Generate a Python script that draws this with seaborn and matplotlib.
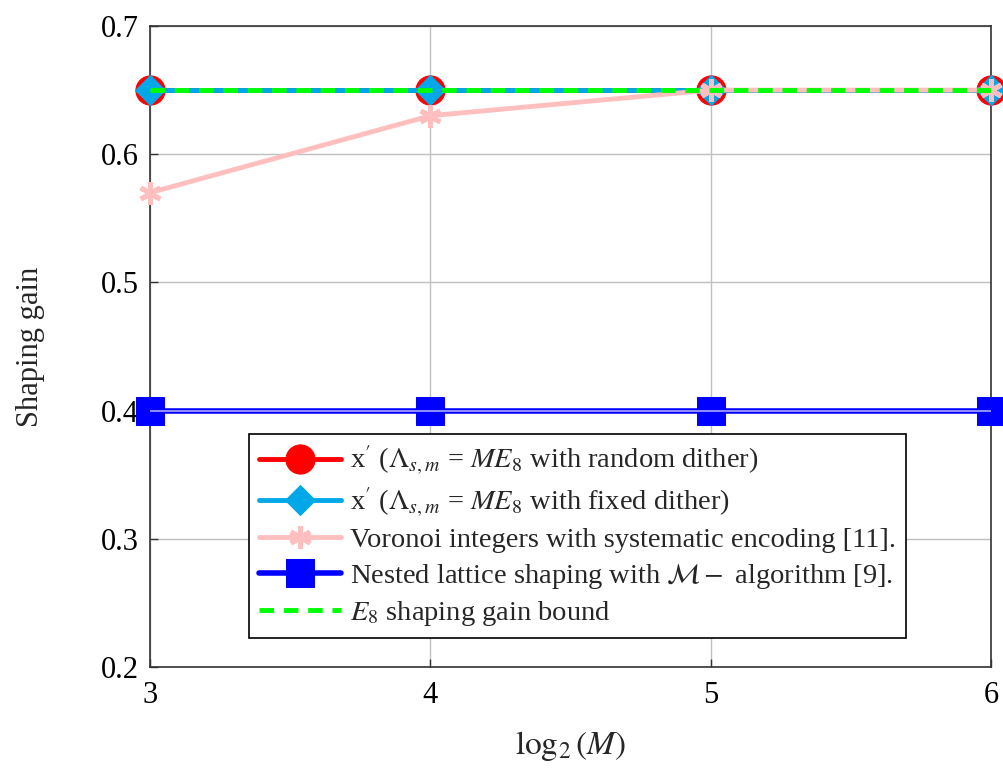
import matplotlib
matplotlib.use("Agg")
import matplotlib.pyplot as plt
import seaborn as sns

# data
log2M = [3, 4, 5, 6]
random_dither = [0.65, 0.65, 0.65, 0.65]
fixed_dither = [0.65, 0.65, 0.65, 0.65]
voronoi = [0.57, 0.63, 0.65, 0.65]
nested = [0.40, 0.40, 0.40, 0.40]
e8_bound = [0.65, 0.65, 0.65, 0.65]

sns.set_style("whitegrid")
plt.rcParams["font.family"] = ["Liberation Serif", "DejaVu Serif"]
plt.rcParams["mathtext.fontset"] = "stix"

fig = plt.figure(figsize=(10.04, 7.69), dpi=100)
ax = fig.add_axes([0.1494, 0.1326, 0.8377, 0.8336])

sns.lineplot(x=log2M, y=random_dither, ax=ax, color="red", linewidth=3.5,
             marker="o", markersize=21, markeredgecolor="red",
             label=r"x$'$ ($\Lambda_{s,m}$ = $ME_8$ with random dither)",
             clip_on=False, zorder=3)
sns.lineplot(x=log2M, y=fixed_dither, ax=ax, color="#00a8e8", linewidth=3.5,
             marker="D", markersize=15, markeredgecolor="#00a8e8",
             label=r"x$'$ ($\Lambda_{s,m}$ = $ME_8$ with fixed dither)",
             clip_on=False, zorder=4)
sns.lineplot(x=log2M, y=voronoi, ax=ax, color="#ffbfbf", linewidth=3.5,
             marker=(6, 2, 0), markersize=16, markeredgewidth=3.5,
             markeredgecolor="#ffbfbf",
             label="Voronoi integers with systematic encoding [11].",
             clip_on=False, zorder=5)
sns.lineplot(x=log2M, y=nested, ax=ax, color="#0000ff", linewidth=4,
             marker="s", markersize=20, markeredgecolor="#0000ff",
             label=r"Nested lattice shaping with $\mathcal{M}-$ algorithm [9].",
             clip_on=False, zorder=3)
ax.plot(log2M, nested, color="#a8a8ff", linewidth=1.2, zorder=3.5)
sns.lineplot(x=log2M, y=e8_bound, ax=ax, color="#00ff00", linewidth=3.5,
             linestyle=(0, (3, 2)), label=r"$E_8$ shaping gain bound",
             zorder=6)

ax.set_xlim(3, 6)
ax.set_ylim(0.2, 0.7)
ax.set_xticks([3, 4, 5, 6])
ax.set_yticks([0.2, 0.3, 0.4, 0.5, 0.6, 0.7])
ax.set_yticklabels(["0.2", "0.3", "0.4", "0.5", "0.6", "0.7"])
ax.tick_params(direction="in", length=6, width=1, colors="#333333",
               labelcolor="black", labelsize=22, left=True, bottom=True)
ax.tick_params(axis="x", pad=10)
ax.tick_params(axis="y", pad=8)
ax.grid(True, color="#c0c0c0", linewidth=1)
for s in ax.spines.values():
    s.set_edgecolor("#333333")
    s.set_linewidth(1.2)

ax.set_xlabel(r"$\log_2(M)$", fontsize=24, labelpad=14)
ax.set_ylabel("Shaping gain", fontsize=22, labelpad=40)

leg = ax.legend(loc="lower center", bbox_to_anchor=(0.508, 0.045),
                borderaxespad=0, fontsize=20.5, frameon=True, fancybox=False,
                edgecolor="black", framealpha=1, handlelength=2.9,
                handletextpad=0.3, borderpad=0.35, labelspacing=0.3)
leg.get_frame().set_linewidth(1.2)
leg.set_zorder(10)

plt.savefig("out.png", dpi=100)
plt.close()
